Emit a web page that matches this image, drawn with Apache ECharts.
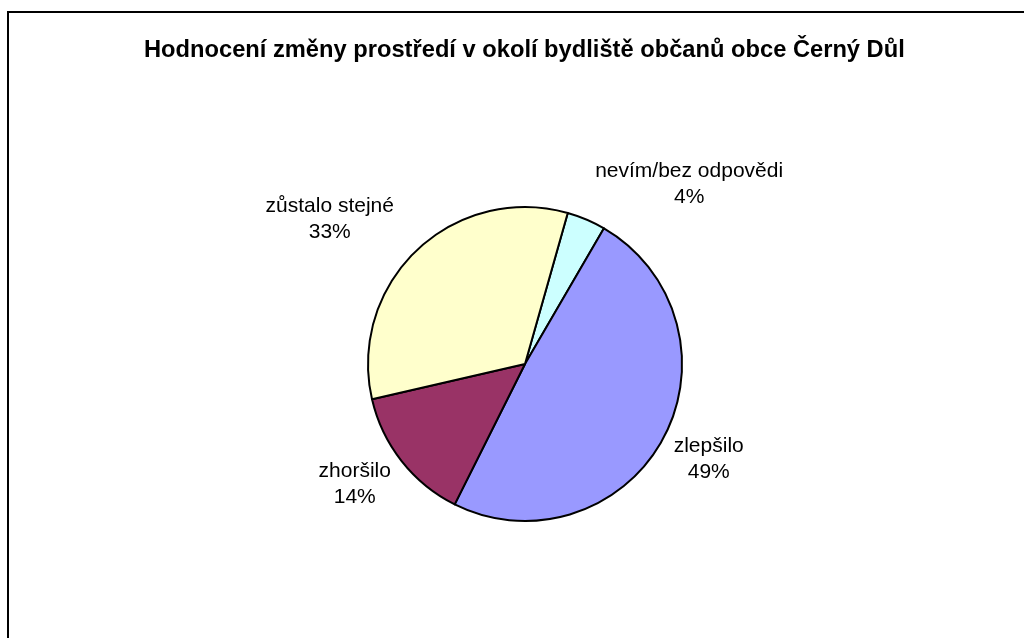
<!DOCTYPE html>
<html>
<head>
  <meta charset="utf-8">
  <title>Hodnocení změny prostředí</title>
  <script src="https://cdn.jsdelivr.net/npm/echarts@6.0.0/dist/echarts.min.js"></script>
  <style>
    body { margin: 0; background: #fff; }
    #chart { width: 1024px; height: 638px; }
  </style>
</head>
<body>
  <div id="chart"></div>
  <script>
    const categories = ['nevím/bez odpovědi', 'zlepšilo', 'zhoršilo', 'zůstalo stejné'];
    const values = [4, 49, 14, 33];
    const colors = ['#CCFFFF', '#9999FF', '#993366', '#FFFFCC'];

    const chart = echarts.init(document.getElementById('chart'));
    const pieCenter = [525, 364];

    chart.setOption({
      backgroundColor: '#fff',
      animation: false,
      title: {
        text: 'Hodnocení změny prostředí v okolí bydliště občanů obce Černý Důl',
        left: 139,
        top: 33,
        textStyle: { fontFamily: 'Liberation Sans, Arial', fontSize: 23.7, fontWeight: 'bold', color: '#000' }
      },
      graphic: [{
        type: 'rect',
        shape: { x: 8, y: 12, width: 1030, height: 640 },
        style: { fill: 'none', stroke: '#000', lineWidth: 2 },
        silent: true
      }],
      series: [{
        type: 'pie',
        center: pieCenter,
        radius: 157,
        startAngle: 74.2,
        clockwise: true,
        data: categories.map((name, i) => ({
          name: name, value: values[i], itemStyle: { color: colors[i] }
        })),
        itemStyle: { borderColor: '#000', borderWidth: 2 },
        label: {
          position: 'outside',
          formatter: '{b}\n{d}%',
          fontFamily: 'Liberation Sans, Arial',
          fontSize: 21,
          lineHeight: 26,
          color: '#000'
        },
        labelLine: { show: false, length: 20, length2: 0 },
        // center the two text lines like Excel does, nudging upper labels up
        labelLayout: function (p) {
          const r = p.labelRect;
          const right = p.align === 'left';
          const upper = r.y + r.height / 2 < pieCenter[1];
          const pull = upper ? (right ? -4 : 4) : (right ? -12 : -10);
          return {
            align: 'center',
            dx: (right ? 1 : -1) * (r.width / 2 + pull),
            dy: upper ? -17 : 11
          };
        },
        emphasis: { disabled: true }
      }]
    });
  </script>
</body>
</html>
